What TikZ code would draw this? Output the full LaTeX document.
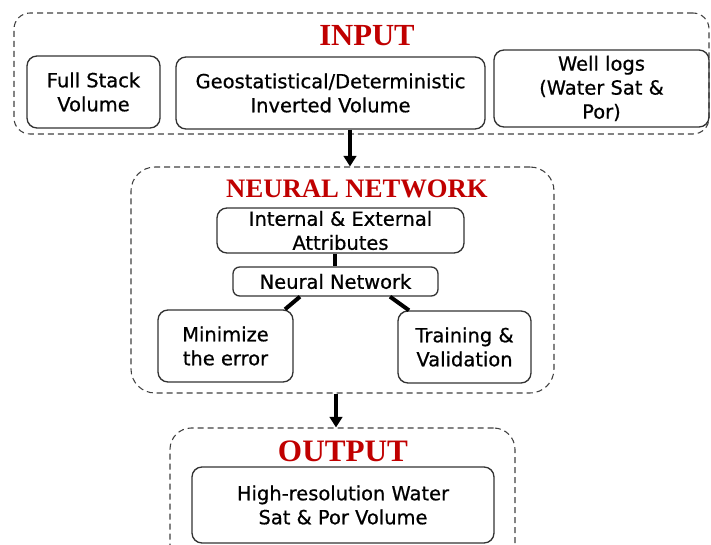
\documentclass[tikz,border=0pt]{standalone}
\usepackage{fontspec}
\setmainfont{DejaVu Sans}
\newfontfamily\boxfont{DejaVu Sans}[FakeBold=0.7]
\newfontfamily\titlefont{Liberation Serif}
\usetikzlibrary{arrows.meta}
\definecolor{titlered}{RGB}{192,0,0}
\begin{document}
\begin{tikzpicture}[x=0.75pt,y=-0.75pt,
  box/.style={draw=black!80, line width=1pt, rounded corners=7.5pt, align=center,
    inner sep=0pt, font=\boxfont\fontsize{14.6}{18}\selectfont},
  group/.style={draw=black!75, line width=0.8pt, dash pattern=on 4.5pt off 3pt, inner sep=0pt},
  title/.style={text=titlered, inner sep=0pt},
  arr/.style={line width=3pt, -{Triangle[length=8pt,width=9.5pt]}},
  link/.style={line width=3pt}]
\useasboundingbox (0,0) rectangle (711,545);
\clip (0,0) rectangle (711,545);

% group boxes
\node[group, minimum width=521.25pt, minimum height=90.75pt, rounded corners=12pt] (inbox) at (361.5,73.5) {};
\node[group, minimum width=317.25pt, minimum height=169.5pt, rounded corners=18pt] (nnbox) at (342.5,280) {};
\node[group, minimum width=258.75pt, minimum height=106.5pt, rounded corners=16pt] (outbox) at (342.5,499) {};

% titles
\node[title, font=\titlefont\bfseries\fontsize{23}{23}\selectfont] (tin) at (367,36) {INPUT};
\node[title, font=\titlefont\bfseries\fontsize{20}{20}\selectfont] (tnn) at (357,189) {NEURAL NETWORK};
\node[title, font=\titlefont\bfseries\fontsize{23.4}{23.4}\selectfont] (tout) at (343,451) {OUTPUT};

% input boxes
\node[box, minimum width=99.75pt, minimum height=54pt] (full) at (93.5,92) {Full Stack\\Volume};
\node[box, minimum width=231.75pt, minimum height=54pt] (geo) at (330.5,93) {Geostatistical/Deterministic\\Inverted Volume};
\node[box, minimum width=161.25pt, minimum height=57.75pt] (well) at (601.5,88.5) {Well logs\\(Water Sat \&\\Por)};

% neural network boxes
\node[box, minimum width=185.25pt, minimum height=33.75pt] (attr) at (340.5,230.5) {Internal \& External\\Attributes};
\node[box, minimum width=153.75pt, minimum height=21.75pt, rounded corners=5pt] (nn) at (335.5,281.5) {Neural Network};
\node[box, minimum width=101.25pt, minimum height=54pt] (mini) at (225.5,346) {Minimize\\the error};
\node[box, minimum width=99.75pt, minimum height=54pt] (train) at (464.5,347) {Training \&\\Validation};

% output box
\node[box, minimum width=226.5pt, minimum height=57pt] (hires) at (343,505) {High-resolution Water\\Sat \& Por Volume};

% connectors
\draw[arr] (geo.south -| 350,0) -- (nnbox.north -| 350,0);
\draw[link] (attr.south -| 335,0) -- (nn.north -| 335,0);
\draw[link] (nn.south -| 300,0) -- (mini.north -| 285,0);
\draw[link] (nn.south -| 390,0) -- (train.north -| 409,0);
\draw[arr] (nnbox.south -| 336,0) -- (outbox.north -| 336,0);
\end{tikzpicture}
\end{document}
